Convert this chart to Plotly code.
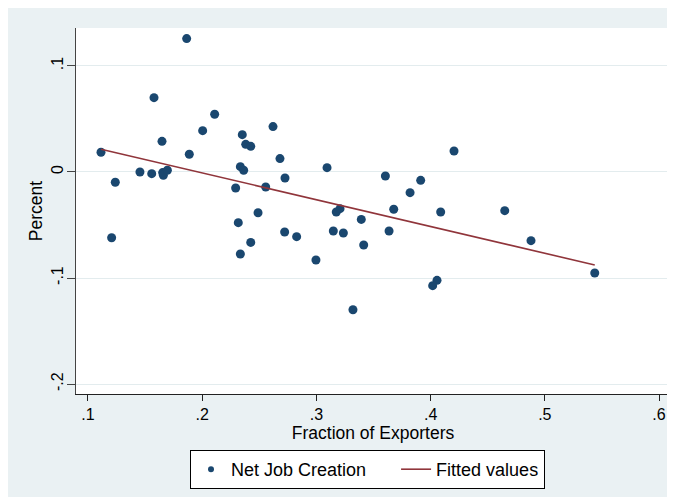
import plotly.graph_objects as go

# Net Job Creation scatter (Fraction of Exporters vs Percent)
exporters = [0.1864, 0.1578, 0.2109, 0.2004, 0.2351, 0.2620, 0.1648, 0.1114, 0.1887, 0.2381,
             0.2425, 0.2681, 0.2334, 0.2363, 0.3093, 0.1455, 0.1558, 0.1654, 0.1660, 0.1695,
             0.1239, 0.2293, 0.2556, 0.2725, 0.2489, 0.3174, 0.3207, 0.3393, 0.1207, 0.2316,
             0.2334, 0.2425, 0.2722, 0.2827, 0.2996, 0.3148, 0.3236, 0.3414, 0.3320, 0.3604,
             0.3913, 0.3820, 0.4205, 0.3677, 0.4088, 0.4649, 0.3636, 0.4879, 0.5437, 0.4056,
             0.4018]
net_job_creation = [0.1258, 0.0701, 0.0544, 0.0390, 0.0352, 0.0428, 0.0289, 0.0186, 0.0167, 0.0261,
                    0.0242, 0.0126, 0.0050, 0.0016, 0.0041, 0.0000, -0.0016, -0.0006, -0.0031, 0.0016,
                    -0.0097, -0.0151, -0.0142, -0.0057, -0.0384, -0.0377, -0.0346, -0.0447, -0.0620, -0.0478,
                    -0.0774, -0.0664, -0.0566, -0.0610, -0.0830, -0.0557, -0.0575, -0.0689, -0.1299, -0.0038,
                    -0.0079, -0.0195, 0.0198, -0.0352, -0.0377, -0.0365, -0.0557, -0.0648, -0.0953, -0.1022,
                    -0.1072]

# Fitted values (end points of the regression line)
fit_x = [0.1114, 0.5437]
fit_y = [0.0215, -0.0877]

x_ticks = [0.1, 0.2, 0.3, 0.4, 0.5, 0.6]
x_tick_labels = [".1", ".2", ".3", ".4", ".5", ".6"]
y_ticks = [0.1, 0.0, -0.1, -0.2]
y_tick_labels = [".1", "0", "-.1", "-.2"]

BG = "#EAF1F3"
NAVY = "#1A476F"
MAROON = "#90353B"
FONT = "Liberation Sans, Arial, sans-serif"
NBSP = "\u00a0"

fig = go.Figure()
fig.add_trace(go.Scatter(
    x=exporters, y=net_job_creation, mode="markers", name="Net Job Creation",
    marker=dict(color=NAVY, size=9, line=dict(width=0)), showlegend=False,
))
# legend entry with the small Stata-style marker (padded to space the entries)
fig.add_trace(go.Scatter(
    x=[None], y=[None], mode="markers", name="Net Job Creation" + NBSP * 5,
    marker=dict(color=NAVY, size=6, line=dict(width=0)), showlegend=True,
))
fig.add_trace(go.Scatter(
    x=fit_x, y=fit_y, mode="lines", name="Fitted values",
    line=dict(color=MAROON, width=1.6),
))

# figure sits at (8, 8) in the page because of the default body margin
W, H = 667, 489
L, R, T, B = 68, 5, 20, 103
pw, ph = W - L - R, H - T - B

fig.update_layout(
    width=W, height=H,
    margin=dict(l=L, r=R, t=T, b=B, autoexpand=False),
    paper_bgcolor=BG, plot_bgcolor="white",
    font=dict(family=FONT, size=17, color="black"),
    showlegend=True,
    legend=dict(
        orientation="h", x=(182 - L) / pw, xanchor="left",
        y=-(442 - (T + ph)) / ph, yanchor="top",
        bgcolor="white", bordercolor="black", borderwidth=1,
        font=dict(family=FONT, size=18, color="black"),
        itemwidth=30, tracegroupgap=0,
    ),
    xaxis=dict(
        range=[0.0895, 0.6096], tickvals=x_ticks, ticktext=x_tick_labels,
        showgrid=False, zeroline=False,
        showline=True, linecolor="#222", linewidth=1.2,
        ticks="outside", ticklen=6, tickcolor="#222", tickwidth=1,
        tickfont=dict(family=FONT, size=16, color="black"),
        title=dict(text="Fraction of Exporters", standoff=0,
                   font=dict(family=FONT, size=17.5, color="black")),
        automargin=False,
    ),
    yaxis=dict(
        range=[-0.2094, 0.1358], tickvals=y_ticks, ticktext=y_tick_labels,
        tickangle=-90, ticklabelstandoff=-3,
        showgrid=True, gridcolor="#E3ECEE", gridwidth=1.2, zeroline=False,
        showline=True, linecolor="#444", linewidth=1.3,
        ticks="outside", ticklen=8, tickcolor="#444", tickwidth=1,
        tickfont=dict(family=FONT, size=16, color="black"),
        title=dict(text="Percent", standoff=2,
                   font=dict(family=FONT, size=17.5, color="black")),
        automargin=False,
    ),
)

fig.write_html("out.html")
